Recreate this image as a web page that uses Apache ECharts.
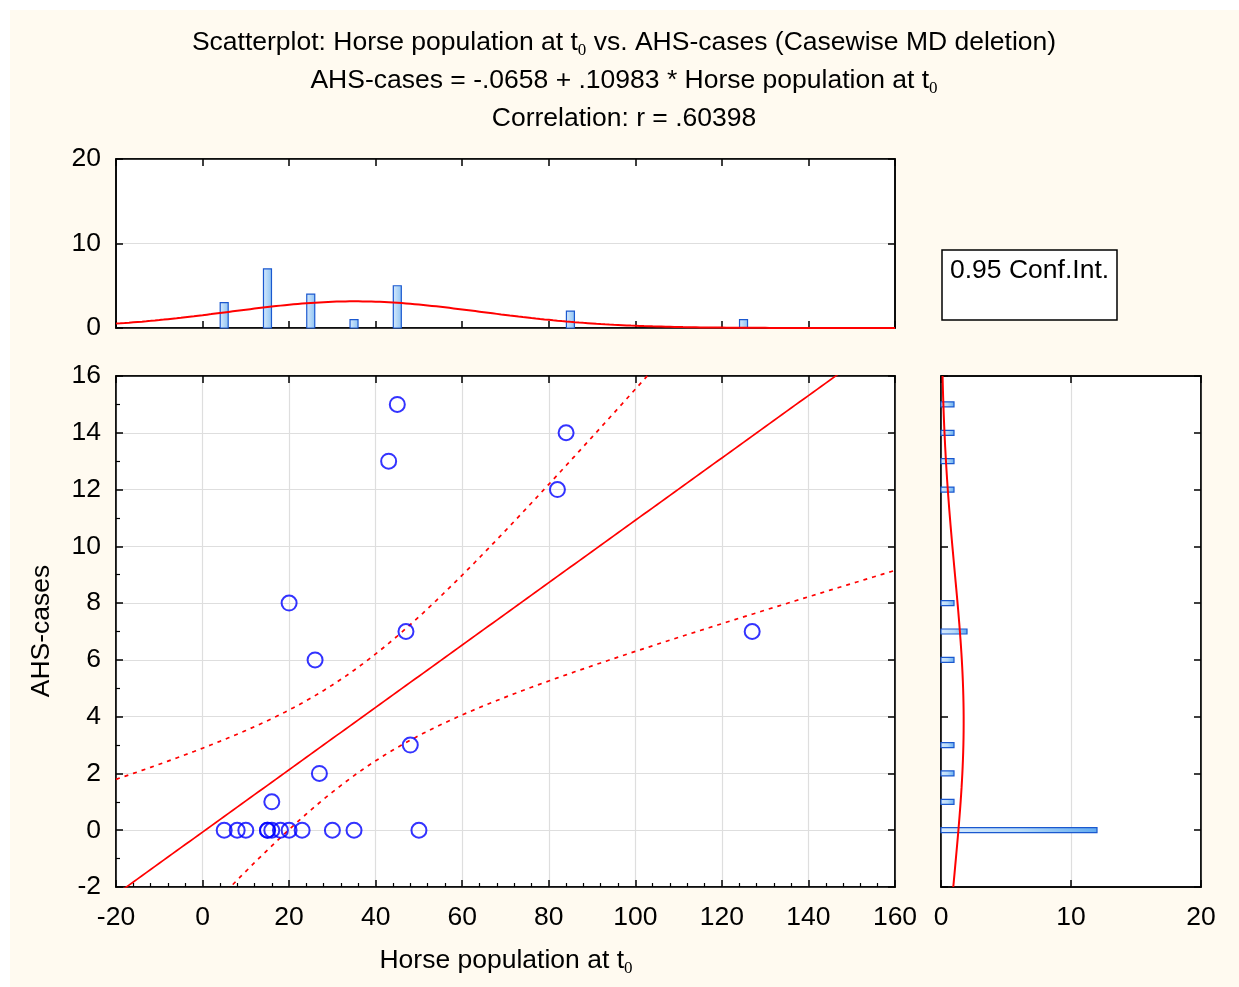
<!DOCTYPE html>
<html><head><meta charset="utf-8">
<script src="https://cdn.jsdelivr.net/npm/echarts@6/dist/echarts.min.js"></script>
<style>html,body{margin:0;padding:0;background:#fff}#c{width:1239px;height:987px}</style>
</head><body><div id="c"></div>
<script>
// ---- data ----
const horseX = [5, 8, 10, 15, 15, 16, 16, 18, 20, 20, 23, 26, 27, 30, 35, 43, 45, 47, 48, 50, 82, 84, 127];
const ahsY   = [0, 0, 0, 0, 0, 0, 1, 0, 0, 8, 0, 6, 2, 0, 0, 13, 15, 7, 3, 0, 12, 14, 7];
const topBinCenters   = [5, 15, 25, 35, 45, 85, 125];
const topBinCounts    = [3, 7, 4, 1, 5, 2, 1];
const topBinWidth = 10;
const rightBinCenters = [0, 1, 2, 3, 6, 7, 8, 12, 13, 14, 15];
const rightBinCounts  = [12, 1, 1, 1, 1, 2, 1, 1, 1, 1, 1];
const rightBinWidth = 1;
const regIntercept = -0.0658;
const regSlope = 0.10983;
const tCrit = 2.0796; // t(0.975, df=21)
const xRange = [-20, 160], xStep = 20;
const yRange = [-2, 16], yStep = 2;
const histCountRange = [0, 20], histStep = 10;
const titleLines = [
  'Scatterplot: Horse population at t{s|0} vs. AHS-cases (Casewise MD deletion)',
  'AHS-cases = -.0658 + .10983 * Horse population at t{s|0}',
  'Correlation: r = .60398'
];
const xName = 'Horse population at t{s|0}';
const yName = 'AHS-cases';
const legendText = '0.95 Conf.Int.';

// ---- derived fits ----
const n = horseX.length;
const mean = a => a.reduce((s, v) => s + v, 0) / a.length;
const mx = mean(horseX), my = mean(ahsY);
const sxx = horseX.reduce((s, v) => s + (v - mx) ** 2, 0);
const syy = ahsY.reduce((s, v) => s + (v - my) ** 2, 0);
const sdX = Math.sqrt(sxx / (n - 1)), sdY = Math.sqrt(syy / (n - 1));
const sse = horseX.reduce((s, v, i) => s + (ahsY[i] - (regIntercept + regSlope * v)) ** 2, 0);
const se = Math.sqrt(sse / (n - 2));
const pdf = (v, m, s) => Math.exp(-0.5 * ((v - m) / s) ** 2) / (s * Math.sqrt(2 * Math.PI));

const regLine = [], upper = [], lower = [];
for (let x = xRange[0]; x <= xRange[1]; x += 1) {
  const yh = regIntercept + regSlope * x;
  const h = tCrit * se * Math.sqrt(1 / n + (x - mx) ** 2 / sxx);
  regLine.push([x, yh]); upper.push([x, yh + h]); lower.push([x, yh - h]);
}
const topCurve = [];
for (let x = xRange[0]; x <= xRange[1]; x += 1) topCurve.push([x, n * topBinWidth * pdf(x, mx, sdX)]);
const rightCurve = [];
for (let y = yRange[0]; y <= yRange[1] + 1e-9; y += 0.25) rightCurve.push([n * rightBinWidth * pdf(y, my, sdY), y]);

// ---- styling ----
const FONT = "'Liberation Sans', Arial, sans-serif";
const FS = 26.5;
const subStyle = { fontSize: 17, fontFamily: "'Liberation Serif', 'Times New Roman', serif", fill: '#000', verticalAlign: 'bottom', lineHeight: 18 };
const black = '#000';
const gridLine = '#dedede';

function axisCommon(extra) {
  return Object.assign({
    type: 'value',
    axisLine: { show: true, onZero: false, lineStyle: { color: black, width: 1.5 } },
    axisTick: { show: true, inside: true, length: 7, lineStyle: { color: black, width: 1.5 } },
    axisLabel: { show: false },
    splitLine: { show: false },
  }, extra);
}
const labelStyle = { show: true, color: black, fontSize: FS, fontFamily: FONT };

const xAxes = [
  axisCommon({ gridIndex: 0, position: 'bottom', min: xRange[0], max: xRange[1], interval: xStep }),
  axisCommon({ gridIndex: 0, position: 'top', min: xRange[0], max: xRange[1], interval: xStep }),
  axisCommon({ gridIndex: 1, position: 'bottom', min: xRange[0], max: xRange[1], interval: xStep,
    axisLabel: Object.assign({ margin: 17 }, labelStyle),
    minorTick: { show: true, splitNumber: 5, length: 4, lineStyle: { color: black, width: 1.2 } },
    splitLine: { show: true, lineStyle: { color: gridLine, width: 1.2 } } }),
  axisCommon({ gridIndex: 1, position: 'top', min: xRange[0], max: xRange[1], interval: xStep }),
  axisCommon({ gridIndex: 2, position: 'bottom', min: histCountRange[0], max: histCountRange[1], interval: histStep,
    axisLabel: Object.assign({ margin: 17 }, labelStyle),
    splitLine: { show: true, lineStyle: { color: gridLine, width: 1.2 } } }),
  axisCommon({ gridIndex: 2, position: 'top', min: histCountRange[0], max: histCountRange[1], interval: histStep }),
];
const yLabel = Object.assign({ margin: 15, padding: [4, 0, 0, 0] }, labelStyle);
const yAxes = [
  axisCommon({ gridIndex: 0, position: 'left', min: histCountRange[0], max: histCountRange[1], interval: histStep,
    axisLabel: yLabel,
    splitLine: { show: true, lineStyle: { color: gridLine, width: 1.2 } } }),
  axisCommon({ gridIndex: 0, position: 'right', min: histCountRange[0], max: histCountRange[1], interval: histStep }),
  axisCommon({ gridIndex: 1, position: 'left', min: yRange[0], max: yRange[1], interval: yStep,
    axisLabel: yLabel,
    minorTick: { show: true, splitNumber: 2, length: 4, lineStyle: { color: black, width: 1.2 } },
    splitLine: { show: true, lineStyle: { color: gridLine, width: 1.2 } } }),
  axisCommon({ gridIndex: 1, position: 'right', min: yRange[0], max: yRange[1], interval: yStep }),
  axisCommon({ gridIndex: 2, position: 'left', min: yRange[0], max: yRange[1], interval: yStep }),
  axisCommon({ gridIndex: 2, position: 'right', min: yRange[0], max: yRange[1], interval: yStep }),
];

const barBorder = '#1a58cf';
function vBar(params, api) {
  const x = api.value(0), c = api.value(1);
  const p0 = api.coord([x, 0]), p1 = api.coord([x, c]);
  const w = 8;
  return { type: 'rect', shape: { x: p0[0] - w / 2, y: p1[1], width: w, height: p0[1] - p1[1] },
    style: { fill: new echarts.graphic.LinearGradient(0, 0, 1, 0, [{ offset: 0, color: '#d9ebfc' }, { offset: 1, color: '#8cc2f3' }]),
      stroke: barBorder, lineWidth: 1.2 } };
}
function hBar(params, api) {
  const c = api.value(0), y = api.value(1);
  const p0 = api.coord([0, y]), p1 = api.coord([c, y]);
  const h = 5;
  return { type: 'rect', shape: { x: p0[0], y: p0[1] - h / 2, width: p1[0] - p0[0], height: h },
    style: { fill: new echarts.graphic.LinearGradient(0, 0, 1, 0, [{ offset: 0, color: '#d9ebfc' }, { offset: 0.5, color: '#b8dbf8' }, { offset: 1, color: '#62abf0' }]),
      stroke: barBorder, lineWidth: 1.2 } };
}

const red = '#ff0000';
const series = [
  { type: 'custom', xAxisIndex: 0, yAxisIndex: 0, renderItem: vBar, data: topBinCenters.map((x, i) => [x, topBinCounts[i]]), z: 2 },
  { type: 'line', xAxisIndex: 0, yAxisIndex: 0, data: topCurve, showSymbol: false, symbol: 'none', lineStyle: { color: red, width: 2 }, z: 3 },
  { type: 'line', xAxisIndex: 2, yAxisIndex: 2, data: upper, showSymbol: false, symbol: 'none', lineStyle: { color: red, width: 1.7, type: [4, 5] }, z: 3 },
  { type: 'line', xAxisIndex: 2, yAxisIndex: 2, data: lower, showSymbol: false, symbol: 'none', lineStyle: { color: red, width: 1.7, type: [4, 5] }, z: 3 },
  { type: 'line', xAxisIndex: 2, yAxisIndex: 2, data: regLine, showSymbol: false, symbol: 'none', lineStyle: { color: red, width: 1.7 }, z: 3 },
  { type: 'scatter', xAxisIndex: 2, yAxisIndex: 2, data: horseX.map((x, i) => [x, ahsY[i]]), symbol: 'circle', symbolSize: 15,
    itemStyle: { color: 'rgba(0,0,0,0)', borderColor: '#0000ff', borderWidth: 2 }, z: 4 },
  { type: 'custom', xAxisIndex: 4, yAxisIndex: 4, renderItem: hBar, data: rightBinCenters.map((y, i) => [rightBinCounts[i], y]), z: 2 },
  { type: 'line', xAxisIndex: 4, yAxisIndex: 4, data: rightCurve, showSymbol: false, symbol: 'none', lineStyle: { color: red, width: 2 }, z: 3 },
];

function richText(text, x, y, extra) {
  return Object.assign({ type: 'text', x, y, silent: true,
    style: { text, fontSize: FS, fontFamily: FONT, fill: '#000', align: 'center', verticalAlign: 'middle', lineHeight: 32,
      rich: { s: subStyle } } }, extra || {});
}

const graphics = [
  { type: 'rect', shape: { x: 0, y: 0, width: 1239, height: 10 }, style: { fill: '#fff' }, silent: true },
  { type: 'rect', shape: { x: 0, y: 0, width: 10, height: 987 }, style: { fill: '#fff' }, silent: true },
  richText(titleLines[0], 624, 43),
  richText(titleLines[1], 624, 81),
  richText(titleLines[2], 624, 119),
  richText(xName, 506, 961),
  richText(yName, 42, 631, { rotation: Math.PI / 2 }),
  { type: 'rect', shape: { x: 942, y: 250, width: 175, height: 70 }, style: { fill: '#fff', stroke: '#000', lineWidth: 1.5 }, silent: true },
  { type: 'text', x: 950, y: 271, silent: true, style: { text: legendText, fontSize: FS, fontFamily: FONT, fill: '#000', align: 'left', verticalAlign: 'middle' } },
];

const chart = echarts.init(document.getElementById('c'), null, { renderer: 'canvas' });
chart.setOption({
  backgroundColor: '#fffaf0',
  animation: false,
  grid: [
    { left: 116, top: 159, width: 779, height: 169, show: true, backgroundColor: '#fff', borderColor: '#000', borderWidth: 1.5 },
    { left: 116, top: 376, width: 779, height: 511, show: true, backgroundColor: '#fff', borderColor: '#000', borderWidth: 1.5 },
    { left: 941, top: 376, width: 260, height: 511, show: true, backgroundColor: '#fff', borderColor: '#000', borderWidth: 1.5 },
  ],
  xAxis: xAxes,
  yAxis: yAxes,
  series,
  graphic: graphics,
});
</script></body></html>
